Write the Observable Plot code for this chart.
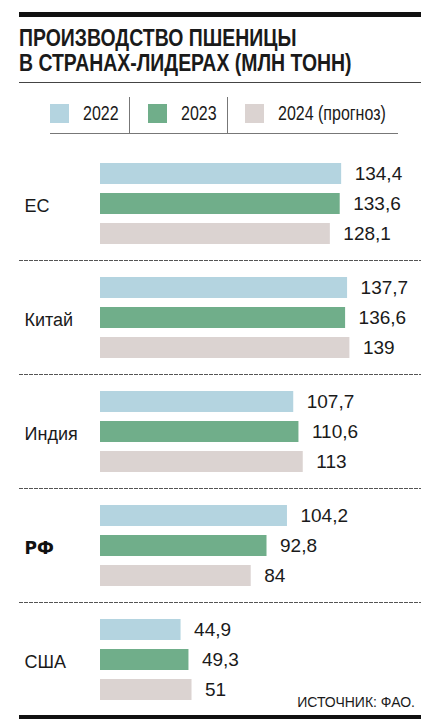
<!DOCTYPE html>
<html>
<head>
<meta charset="utf-8">
<script src="https://cdn.jsdelivr.net/npm/d3@7"></script>
<script src="https://cdn.jsdelivr.net/npm/@observablehq/plot@0.6"></script>
<style>
  body { margin: 0; background: #fff; }
  #wrap { position: relative; width: 430px; height: 724px; overflow: hidden;
    font-family: "Liberation Sans", Arial, sans-serif; color: #1a1a1a; }
  .abs { position: absolute; }
  .thick { left: 19px; width: 402px; height: 5px; background: #111; }
  .title { left: 19px; font-size: 24px; line-height: 24px; font-weight: bold; white-space: nowrap;
    transform: scaleX(0.81); transform-origin: left center; }
  .thin { background: #444; }
  .lg-sq { width: 19px; height: 19px; top: 104px; }
  .lg-tx { top: 103px; font-size: 19.5px; line-height: 20px; white-space: nowrap;
    transform: scaleX(0.82); transform-origin: left center; }
  #source { right: 15px; top: 695px; font-size: 14px; line-height: 14px; white-space: nowrap; }
  #chart { left: 0; top: 145px; }
</style>
</head>
<body>
<div id="wrap">
  <div class="abs thick" style="top:12px"></div>
  <div class="abs title" style="top:26px">ПРОИЗВОДСТВО ПШЕНИЦЫ</div>
  <div class="abs title" style="top:51px">В СТРАНАХ-ЛИДЕРАХ (МЛН ТОНН)</div>
  <div class="abs thin" style="left:19px;top:82px;width:402px;height:1px"></div>
  <div id="legend"></div>
  <div class="abs" id="chart"></div>
  <div class="abs" id="source">ИСТОЧНИК: ФАО.</div>
  <div class="abs thick" style="top:715px;height:4px"></div>
</div>
<script>
// данные
const countries = ["ЕС", "Китай", "Индия", "РФ", "США"]
const years = ["2022", "2023", "2024 (прогноз)"]
const colors = ["#b4d4e0", "#70ae8a", "#dbd3d1"]
const v2022 = [134.4, 137.7, 107.7, 104.2, 44.9]
const v2023 = [133.6, 136.6, 110.6, 92.8, 49.3]
const v2024 = [128.1, 139, 113, 84, 51]

const series = [v2022, v2023, v2024]
const rows = []
countries.forEach((c, i) => {
  years.forEach((y, j) => rows.push({country: c, year: y, value: series[j][i]}))
})

// легенда
const lgX = [50, 148, 245]
const legend = document.getElementById('legend')
years.forEach((y, j) => {
  legend.insertAdjacentHTML('beforeend',
    `<div class="abs lg-sq" style="left:${lgX[j]}px;background:${colors[j]}"></div>` +
    `<div class="abs lg-tx" style="left:${lgX[j] + 33}px">${y}</div>`)
})
legend.insertAdjacentHTML('beforeend',
  `<div class="abs thin" style="left:129px;top:97px;width:1px;height:37px;background:#777"></div>` +
  `<div class="abs thin" style="left:227px;top:97px;width:1px;height:37px;background:#777"></div>` +
  `<div class="abs thin" style="left:50px;top:133px;width:348px;height:1px;background:#777"></div>`)

const fmt = v => String(v).replace('.', ',')

let chart = Plot.plot({
  width: 430,
  height: 572,
  marginLeft: 19,
  marginRight: 10,
  marginTop: 0,
  marginBottom: 0,
  x: {domain: [0, 139], range: [100, 349.4], axis: null},
  y: {domain: years, axis: null, paddingInner: 0.31, paddingOuter: 0.53},
  fy: {domain: countries, axis: null, padding: 0},
  color: {domain: years, range: colors},
  style: {fontFamily: '"Liberation Sans", Arial, sans-serif', color: '#1a1a1a', background: 'transparent', overflow: 'visible'},
  marks: [
    Plot.frame({anchor: 'bottom', stroke: '#555', strokeDasharray: '3,2'}),
    Plot.barX(rows, {fy: 'country', y: 'year', x: 'value', fill: 'year'}),
    Plot.text(rows, {fy: 'country', y: 'year', x: 'value', text: d => fmt(d.value),
      textAnchor: 'start', dx: 13, fontSize: 19, fill: '#1a1a1a'}),
    Plot.text(countries.filter(c => c !== 'РФ'), {fy: d => d, text: d => d, frameAnchor: 'left',
      textAnchor: 'start', dx: 5, dy: 3, fontSize: 18, fill: '#1a1a1a'}),
    Plot.text(['РФ'], {fy: d => d, text: d => d, frameAnchor: 'left',
      textAnchor: 'start', dx: 5, dy: 3, fontSize: 17, fontWeight: 900,
      fontFamily: '"DejaVu Sans", sans-serif', fill: '#111'})
  ]
})

d3.select('#chart').append(() => chart)
</script>
</body>
</html>
